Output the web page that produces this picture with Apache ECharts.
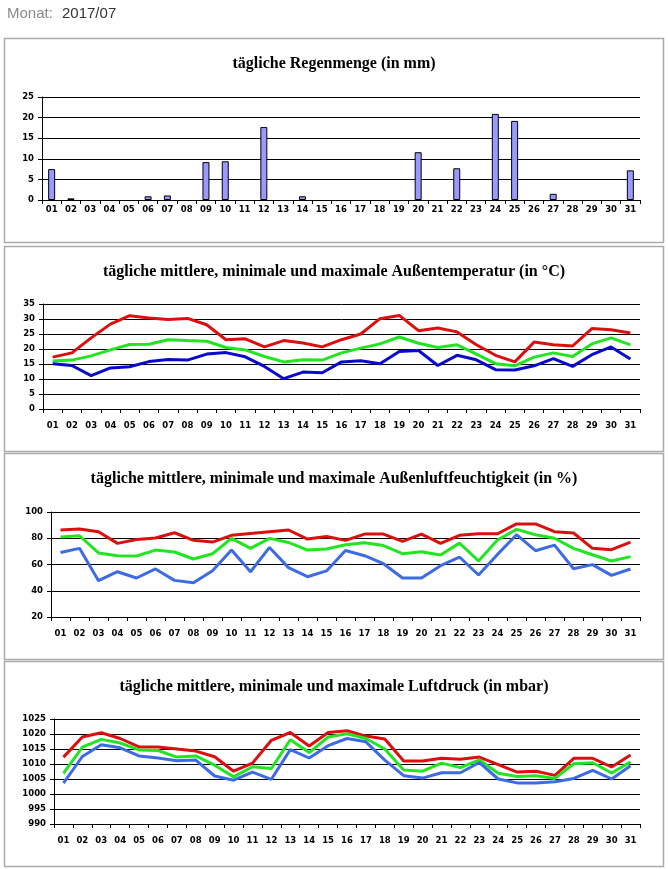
<!DOCTYPE html>
<html>
<head>
<meta charset="utf-8">
<script src="https://cdn.jsdelivr.net/npm/echarts@6/dist/echarts.min.js"></script>
<style>
html,body{margin:0;padding:0;background:#fff;}
#c{width:668px;height:869px;}
</style>
</head>
<body>
<div id="c"></div>
<script>
const days = ['01','02','03','04','05','06','07','08','09','10','11','12','13','14','15','16','17','18','19','20','21','22','23','24','25','26','27','28','29','30','31'];

const rain = [7.5,0.4,0,0,0,0.9,1.1,0,9.2,9.4,0,17.7,0,0.9,0,0,0,0,0,11.6,0,7.7,0,20.9,19.2,0,1.5,0,0,0,7.2];

const tempMax = [17.3,18.7,23.7,28.3,31.1,30.3,29.8,30.2,28.1,23.1,23.4,20.7,22.8,22.0,20.7,23.1,25.0,30.1,31.2,26.1,27.0,25.7,21.4,17.9,15.7,22.3,21.4,21.0,26.8,26.4,25.3];
const tempMean = [16.0,16.3,17.7,19.7,21.5,21.6,23.1,22.8,22.6,20.5,19.7,17.5,15.7,16.4,16.3,18.7,20.3,21.7,24.0,21.9,20.5,21.4,18.3,15.1,14.4,17.3,18.7,17.5,21.7,23.7,21.4];
const tempMin = [15.1,14.5,11.1,13.7,14.1,15.8,16.5,16.3,18.3,18.8,17.4,14.2,10.1,12.3,12.1,15.7,16.1,15.1,19.2,19.5,14.5,17.9,16.4,13.1,13.0,14.4,16.8,14.2,18.1,20.7,16.7];

const humMax = [86.3,87,85,76.1,79.1,80.2,84.2,78.4,77.1,82.2,83.7,85,86.3,79.4,81.4,78.4,83.2,83.2,77.6,83.2,76.1,82.2,83.4,83.4,90.9,90.9,85,84,72.3,71.3,77.1];
const humMean = [80.9,81.9,68.8,66.7,66.5,71,69.5,64.2,68.2,79.9,72.3,79.9,76.8,71,71.8,75,76.6,74.4,68.2,69.7,67.2,76.3,62.7,78.7,86.8,82.7,80,72.3,67.4,62.7,66];
const humMin = [69.2,72.3,47.7,54.5,49.7,56.6,47.9,46.1,55.3,71,54.5,73,57.6,50.7,55.1,70.7,66.7,60.6,49.7,49.7,59.1,65.7,52,67.7,82.7,70.5,74.8,56.8,59.9,51.7,56.6];

const presMax = [1012.3,1019,1020.4,1018.5,1015.7,1015.7,1015,1014.3,1012.4,1007.6,1010.3,1017.9,1020.5,1016,1020.5,1021.1,1019.3,1018.3,1011,1011,1011.9,1011.6,1012.3,1009.8,1007.3,1007.6,1006.2,1011.9,1011.9,1009,1013];
const presMean = [1006.9,1015.6,1018.2,1017,1014.7,1014.5,1012.3,1012.7,1009.6,1005.7,1009.1,1008.5,1018.1,1013.8,1019,1020.1,1018.5,1015,1008,1007.6,1010.3,1008.8,1011.4,1006.9,1005.8,1006.1,1005.2,1010.1,1010.4,1007,1010.7];
const presMin = [1003.6,1012.5,1016.4,1015.4,1012.7,1012,1011.1,1011.3,1006,1004.6,1007.3,1004.9,1014.8,1012,1016.1,1018.5,1017.4,1011.3,1006.1,1005.3,1007.1,1007.1,1010.5,1005,1003.7,1003.7,1004.1,1005.2,1007.9,1005,1009.4];

const titles = [
  'tägliche Regenmenge (in mm)',
  'tägliche mittlere, minimale und maximale Außentemperatur (in °C)',
  'tägliche mittlere, minimale und maximale Außenluftfeuchtigkeit (in %)',
  'tägliche mittlere, minimale und maximale Luftdruck (in mbar)'
];
const headerLabel = 'Monat:';
const headerValue = '2017/07';

const RED = '#DD0E0E', GREEN = '#22E522', DBLUE = '#0A0ACC', LBLUE = '#3D6BE6';

const grids = [
  {left:42, top:97, width:598, height:103},
  {left:43, top:304, width:597, height:105},
  {left:51, top:512, width:589, height:105},
  {left:54, top:719, width:586, height:105}
];
const xLabelMargin = [5, 12, 12, 12];
const yCfg = [
  {min:0, max:25, interval:5},
  {min:0, max:35, interval:5},
  {min:20, max:100, interval:20},
  {min:990, max:1025, interval:5}
];
const titleTops = [51, 259, 466, 674];
const panels = [[38,204],[246,205],[453,206],[661,205]];

const labelFont = {fontFamily:'DejaVu Sans', fontWeight:'bold', fontSize:8.5, color:'#000'};

const option = {
  animation:false,
  backgroundColor:'#fff',
  title: titles.map((t,i)=>({
    text:t, left:'center', top:titleTops[i],
    textStyle:{fontFamily:'Liberation Serif', fontWeight:'bold', fontSize:16, color:'#000'}
  })),
  graphic: [
    {type:'text', left:7, top:6, style:{text:headerLabel, font:'15px "Liberation Sans", sans-serif', fill:'#8a8a8a'}},
    {type:'text', left:62, top:6, style:{text:headerValue, font:'15px "Liberation Sans", sans-serif', fill:'#333'}}
  ].concat(panels.map(p=>({
    type:'rect', shape:{x:4.5, y:p[0]+0.5, width:659, height:p[1]},
    style:{fill:'none', stroke:'#AAAAAA', lineWidth:1.5}, silent:true, z:-1
  }))),
  grid: grids,
  xAxis: grids.map((g,i)=>({
    type:'category', gridIndex:i, data:days, boundaryGap:true,
    axisLine:{show:true, lineStyle:{color:'#000', width:1}},
    axisTick:{show:true, length:4, lineStyle:{color:'#000'}},
    axisLabel:Object.assign({margin:xLabelMargin[i], interval:0}, labelFont),
    splitLine:{show:false}
  })),
  yAxis: yCfg.map((c,i)=>({
    type:'value', gridIndex:i, min:c.min, max:c.max, interval:c.interval,
    axisLine:{show:true, lineStyle:{color:'#000', width:1}},
    axisTick:{show:true, length:4, lineStyle:{color:'#000'}},
    axisLabel:Object.assign({margin:8, formatter:v=>String(v)}, labelFont),
    splitLine:{show:true, lineStyle:{color:'#000', width:1}}
  })),
  series: [
    {type:'bar', xAxisIndex:0, yAxisIndex:0, data:rain.map(v=>v===0?'-':v), barWidth:7,
     itemStyle:{color:'#9999FF', borderColor:'#000', borderWidth:1}},
    {type:'line', xAxisIndex:1, yAxisIndex:1, data:tempMax, showSymbol:false, lineStyle:{color:RED, width:3}},
    {type:'line', xAxisIndex:1, yAxisIndex:1, data:tempMean, showSymbol:false, lineStyle:{color:GREEN, width:3}},
    {type:'line', xAxisIndex:1, yAxisIndex:1, data:tempMin, showSymbol:false, lineStyle:{color:DBLUE, width:3}},
    {type:'line', xAxisIndex:2, yAxisIndex:2, data:humMax, showSymbol:false, lineStyle:{color:RED, width:3}},
    {type:'line', xAxisIndex:2, yAxisIndex:2, data:humMean, showSymbol:false, lineStyle:{color:GREEN, width:3}},
    {type:'line', xAxisIndex:2, yAxisIndex:2, data:humMin, showSymbol:false, lineStyle:{color:LBLUE, width:3}},
    {type:'line', xAxisIndex:3, yAxisIndex:3, data:presMax, showSymbol:false, lineStyle:{color:RED, width:3}},
    {type:'line', xAxisIndex:3, yAxisIndex:3, data:presMean, showSymbol:false, lineStyle:{color:GREEN, width:3}},
    {type:'line', xAxisIndex:3, yAxisIndex:3, data:presMin, showSymbol:false, lineStyle:{color:LBLUE, width:3}}
  ]
};
const chart = echarts.init(document.getElementById('c'), null, {renderer:'canvas'});
chart.setOption(option);
</script>
</body>
</html>
